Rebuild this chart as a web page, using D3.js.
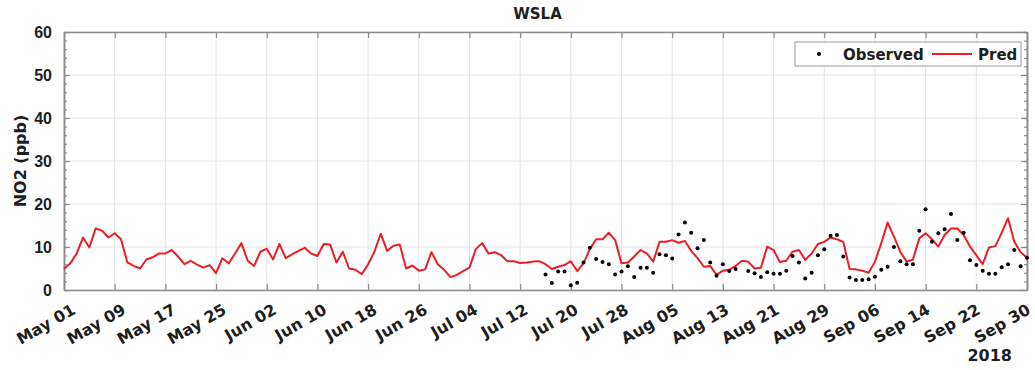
<!DOCTYPE html>
<html>
<head>
<meta charset="utf-8">
<script src="https://cdn.jsdelivr.net/npm/d3@7"></script>
<style>
  body { margin: 0; background: #fff; }
  svg { display: block; font-family: "DejaVu Sans", sans-serif; }
</style>
</head>
<body>
<svg id="chart" width="1035" height="370"></svg>
<script>
// ---- data ----
const startDate = "2018-05-01";
const predValues = [
  4.9, 6.2, 8.5, 12.2, 9.9, 14.3, 13.8, 12.2, 13.2, 11.8,
  6.4, 5.6, 5.0, 7.1, 7.6, 8.5, 8.5, 9.3, 7.8, 6.0,
  6.8, 5.9, 5.2, 5.8, 3.9, 7.4, 6.2, 8.5, 10.9, 6.8,
  5.6, 8.9, 9.6, 7.1, 10.7, 7.4, 8.3, 9.1, 9.8, 8.5,
  7.9, 10.7, 10.6, 6.4, 8.9, 5.0, 4.7, 3.7, 6.0, 8.9,
  13.1, 9.1, 10.3, 10.6, 5.0, 5.7, 4.5, 4.8, 8.8, 6.0,
  4.7, 3.0, 3.5, 4.4, 5.2, 9.5, 10.9, 8.5, 8.8, 8.1,
  6.7, 6.7, 6.3, 6.4, 6.6, 6.7, 6.0, 4.9, 5.4, 5.8,
  6.7, 4.4, 6.2, 9.5, 11.8, 11.8, 13.3, 11.6, 6.2, 6.4,
  7.8, 9.3, 8.5, 6.6, 11.2, 11.2, 11.6, 11.0, 11.4, 9.1,
  7.4, 5.4, 5.6, 3.5, 4.5, 4.7, 5.6, 6.8, 6.6, 5.0,
  5.2, 10.1, 9.3, 6.5, 6.8, 8.9, 9.3, 7.0, 8.5, 10.7,
  11.2, 12.2, 11.8, 11.2, 4.9, 4.8, 4.5, 4.0, 6.6, 10.9,
  15.7, 12.4, 8.9, 6.6, 7.1, 12.0, 13.2, 11.8, 10.1, 12.8,
  14.3, 14.3, 12.8, 10.1, 8.1, 6.0, 9.9, 10.2, 13.3, 16.7,
  11.2, 8.8, 7.5
];
const obsStartDate = "2018-07-16";
const obsValues = [
  3.6, 1.6, 4.3, 4.3, 1.1, 1.7, 6.4, 9.8, 7.2, 6.5,
  6.0, 3.6, 4.3, 5.5, 3.0, 5.2, 5.2, 4.0, 8.3, 8.1,
  7.3, 12.9, 15.7, 13.3, 9.7, 11.6, 6.4, 3.3, 6.0, 4.4,
  4.9, null, 4.4, 3.9, 3.0, 4.1, 3.8, 3.8, 4.5, 7.9,
  6.4, 2.7, 4.0, 8.1, 9.5, 12.6, 12.8, 7.8, 2.9, 2.3,
  2.3, 2.5, 3.1, 4.7, 5.4, 10.0, 6.7, 6.0, 6.0, 13.8,
  18.8, 11.2, 13.2, 14.1, 17.7, 11.6, 13.3, 6.9, 5.8, 4.5,
  3.8, 3.8, 5.3, 6.0, 9.3, 5.5, 7.5
];
const xTickLabels = ["May 01","May 09","May 17","May 25","Jun 02","Jun 10","Jun 18","Jun 26","Jul 04","Jul 12",
  "Jul 20","Jul 28","Aug 05","Aug 13","Aug 21","Aug 29","Sep 06","Sep 14","Sep 22","Sep 30"];
const yTicks = [0, 10, 20, 30, 40, 50, 60];
const yMinorTicks = d3.range(0, 61, 2);
const titleText = "WSLA";
const yLabelText = "NO2 (ppb)";
const yearText = "2018";
const legendLabels = ["Observed", "Pred"];

// ---- build ----
const DAY = 86400000;
const t0 = new Date(startDate + "T00:00:00Z");
const o0 = new Date(obsStartDate + "T00:00:00Z");
const pred = predValues.map((v, i) => ({ date: new Date(+t0 + i * DAY), v }));
const obs = obsValues.map((v, i) => ({ date: new Date(+o0 + i * DAY), v })).filter(d => d.v != null);
const tickDates = xTickLabels.map((_, i) => new Date(+t0 + i * 8 * DAY));

const L = 64, R = 1027, T = 32, B = 290;
const svg = d3.select("#chart");
const x = d3.scaleUtc().domain([t0, new Date(+t0 + 152 * DAY)]).range([L, R]);
const y = d3.scaleLinear().domain([0, 60]).range([B, T]);

const axisColor = "#8c8c8c";
const textColor = "#1e1e1e";

// grid
const grid = svg.append("g");
grid.selectAll(".gx").data(tickDates).join("line")
  .attr("x1", d => x(d)).attr("x2", d => x(d)).attr("y1", T).attr("y2", B)
  .attr("stroke", "#e4e4e4").attr("stroke-width", 1);
grid.selectAll(".gy").data(yTicks).join("line")
  .attr("x1", L).attr("x2", R).attr("y1", d => y(d)).attr("y2", d => y(d))
  .attr("stroke", "#e4e4e4").attr("stroke-width", 1);

// axes via d3
const fmt = (d, i) => xTickLabels[i];
const gBottom = svg.append("g").attr("transform", `translate(0,${B})`)
  .call(d3.axisBottom(x).tickValues(tickDates).tickSizeInner(-6).tickSizeOuter(0).tickFormat(""));
const gTop = svg.append("g").attr("transform", `translate(0,${T})`)
  .call(d3.axisTop(x).tickValues(tickDates).tickSizeInner(-6).tickSizeOuter(0).tickFormat(""));
const gLeftMinor = svg.append("g").attr("transform", `translate(${L},0)`)
  .call(d3.axisLeft(y).tickValues(yMinorTicks).tickSizeInner(-3).tickSizeOuter(0).tickFormat(""));
const gLeft = svg.append("g").attr("transform", `translate(${L},0)`)
  .call(d3.axisLeft(y).tickValues(yTicks).tickSizeInner(-6).tickSizeOuter(0).tickPadding(12).tickFormat(d3.format("d")));
const gRightMinor = svg.append("g").attr("transform", `translate(${R},0)`)
  .call(d3.axisRight(y).tickValues(yMinorTicks).tickSizeInner(-3).tickSizeOuter(0).tickFormat(""));
const gRight = svg.append("g").attr("transform", `translate(${R},0)`)
  .call(d3.axisRight(y).tickValues(yTicks).tickSizeInner(-6).tickSizeOuter(0).tickFormat(""));

[gBottom, gTop, gLeftMinor, gLeft, gRightMinor, gRight].forEach(g => {
  g.select(".domain").attr("stroke", axisColor).attr("stroke-width", 1.5);
  g.selectAll(".tick line").attr("stroke", axisColor).attr("stroke-width", 1.2);
});
gLeft.selectAll(".tick text")
  .attr("fill", textColor).attr("font-size", 16).attr("font-weight", "bold");

// x tick labels rotated
svg.append("g").selectAll("text").data(tickDates).join("text")
  .attr("transform", d => {
    const px = x(d);
    const off = 7 - 8 * (px - L) / (R - L);
    return `translate(${px + off},${B + 13}) rotate(-30)`;
  })
  .attr("text-anchor", "end").attr("dy", "0.71em")
  .attr("font-size", 16).attr("font-weight", "bold").attr("fill", textColor)
  .text(fmt);

// line
const line = d3.line().x(d => x(d.date)).y(d => y(d.v));
const redColor = "#ee1d24";
svg.append("path").datum(pred)
  .attr("d", line).attr("fill", "none").attr("stroke", redColor)
  .attr("stroke-width", 2).attr("stroke-linejoin", "round");

// observed dots
svg.append("g").selectAll("circle").data(obs).join("circle")
  .attr("cx", d => x(d.date)).attr("cy", d => y(d.v)).attr("r", 2)
  .attr("fill", "#000");

// title
svg.append("text").attr("x", (L + R) / 2 - 8).attr("y", 19)
  .attr("text-anchor", "middle").attr("font-size", 15).attr("font-weight", "bold")
  .attr("fill", textColor).text(titleText);

// y label
svg.append("text").attr("transform", `translate(26,${(T + B) / 2}) rotate(-90)`)
  .attr("text-anchor", "middle").attr("font-size", 16).attr("font-weight", "bold")
  .attr("fill", textColor).text(yLabelText);

// year
svg.append("text").attr("x", 1012).attr("y", 361)
  .attr("text-anchor", "end").attr("font-size", 16).attr("font-weight", "bold")
  .attr("fill", textColor).text(yearText);

// legend
const lg = svg.append("g");
lg.append("rect").attr("x", 795).attr("y", 42).attr("width", 226).attr("height", 24)
  .attr("fill", "#fff").attr("stroke", "#9a9a9a").attr("stroke-width", 1);
lg.append("circle").attr("cx", 819).attr("cy", 54).attr("r", 2).attr("fill", "#000");
lg.append("text").attr("x", 843).attr("y", 59.5).attr("font-size", 15).attr("font-weight", "bold")
  .attr("fill", textColor).text(legendLabels[0]);
lg.append("line").attr("x1", 932).attr("x2", 972).attr("y1", 54).attr("y2", 54)
  .attr("stroke", redColor).attr("stroke-width", 2);
lg.append("text").attr("x", 978).attr("y", 59.5).attr("font-size", 15).attr("font-weight", "bold")
  .attr("fill", textColor).text(legendLabels[1]);
</script>
</body>
</html>
